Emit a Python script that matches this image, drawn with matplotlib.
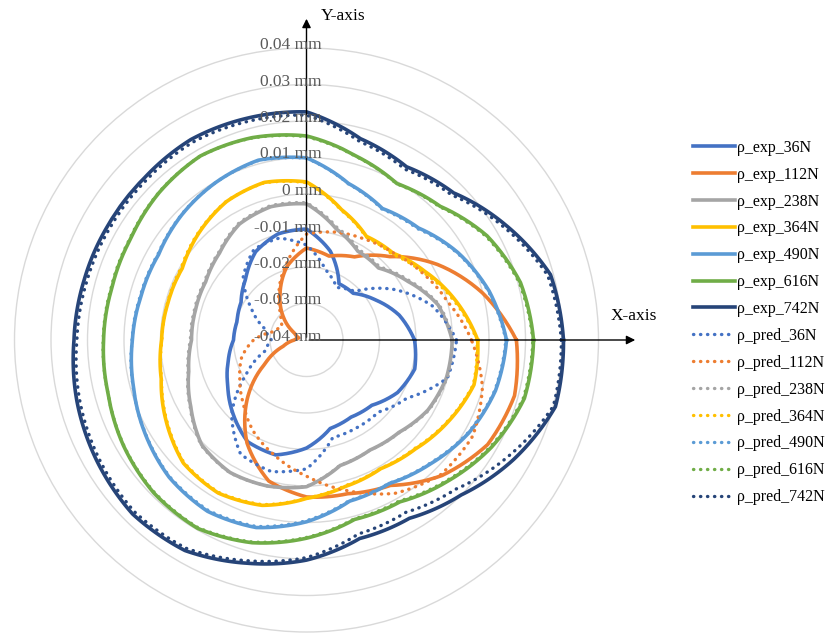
import numpy as np
import matplotlib.pyplot as plt
import matplotlib.transforms as mtransforms

plt.rcParams['font.family'] = ['Liberation Serif', 'DejaVu Serif']

# angles in degrees from the X-axis, counter-clockwise
angles = np.arange(0, 360, 15)

loads = ['36N', '112N', '238N', '364N', '490N', '616N', '742N']
colors = ['#4472C4', '#ED7D31', '#A5A5A5', '#FFC000', '#5B9BD5', '#70AD47', '#264478']

# measured profile deviation, mm
exp_36 = [-0.0104, -0.0137, -0.0181, -0.0219, -0.0222, -0.0148, -0.0096, -0.0099,
          -0.0121, -0.0164, -0.0193, -0.0203, -0.0200, -0.0178, -0.0151, -0.0115,
          -0.0078, -0.0074, -0.0104, -0.0149, -0.0156, -0.0147, -0.0112, -0.0093]
exp_112 = [0.0175, 0.0099, 0.0014, -0.0077, -0.0137, -0.0162, -0.0148, -0.0192,
           -0.0255, -0.0310, -0.0362, -0.0378, -0.0367, -0.0334, -0.0268, -0.0170,
           -0.0074, 0.0000, 0.0030, 0.0036, 0.0060, 0.0125, 0.0173, 0.0190]
exp_238 = [-0.0001, -0.0027, -0.0079, -0.0121, -0.0119, -0.0085, -0.0027, -0.0022,
           -0.0033, -0.0063, -0.0081, -0.0085, -0.0085, -0.0066, -0.0034, 0.0006,
           0.0019, 0.0014, 0.0002, -0.0044, -0.0052, -0.0042, -0.0016, -0.0003]
exp_364 = [0.0069, 0.0022, -0.0025, -0.0064, -0.0072, -0.0030, 0.0033, 0.0047,
           0.0038, 0.0016, -0.0007, -0.0007, -0.0003, 0.0012, 0.0044, 0.0077,
           0.0084, 0.0069, 0.0034, 0.0015, 0.0007, 0.0022, 0.0048, 0.0075]
exp_490 = [0.0148, 0.0118, 0.0079, 0.0034, 0.0016, 0.0044, 0.0099, 0.0110,
           0.0098, 0.0084, 0.0068, 0.0069, 0.0077, 0.0091, 0.0111, 0.0132,
           0.0142, 0.0132, 0.0098, 0.0057, 0.0054, 0.0080, 0.0112, 0.0136]
exp_616 = [0.0222, 0.0207, 0.0171, 0.0118, 0.0095, 0.0122, 0.0159, 0.0174,
           0.0182, 0.0171, 0.0156, 0.0152, 0.0156, 0.0163, 0.0179, 0.0192,
           0.0196, 0.0175, 0.0143, 0.0109, 0.0112, 0.0147, 0.0186, 0.0218]
exp_742 = [0.0304, 0.0292, 0.0230, 0.0170, 0.0148, 0.0171, 0.0225, 0.0229,
           0.0234, 0.0228, 0.0228, 0.0231, 0.0237, 0.0251, 0.0263, 0.0274,
           0.0266, 0.0233, 0.0203, 0.0163, 0.0164, 0.0200, 0.0255, 0.0306]

# predicted profile, mm
pred_36 = [0.0011, -0.0042, -0.0123, -0.0212, -0.0234, -0.0200, -0.0140, -0.0111,
           -0.0113, -0.0155, -0.0225, -0.0282, -0.0304, -0.0282, -0.0208, -0.0110,
           -0.0039, -0.0027, -0.0047, -0.0123, -0.0123, -0.0121, -0.0082, 0.0000]
pred_112 = [0.0052, 0.0001, -0.0033, -0.0063, -0.0081, -0.0094, -0.0110, -0.0186,
            -0.0249, -0.0301, -0.0323, -0.0310, -0.0255, -0.0216, -0.0189, -0.0155,
            -0.0110, -0.0071, -0.0027, 0.0027, 0.0085, 0.0121, 0.0126, 0.0099]
pred_238 = [0.0001, -0.0024, -0.0075, -0.0117, -0.0114, -0.0080, -0.0024, -0.0019,
            -0.0030, -0.0060, -0.0078, -0.0082, -0.0082, -0.0064, -0.0032, 0.0008,
            0.0020, 0.0014, 0.0001, -0.0045, -0.0052, -0.0041, -0.0014, -0.0001]
pred_364 = [0.0067, 0.0018, -0.0030, -0.0068, -0.0074, -0.0032, 0.0031, 0.0046,
            0.0039, 0.0018, -0.0004, -0.0006, -0.0004, 0.0011, 0.0042, 0.0075,
            0.0082, 0.0067, 0.0033, 0.0013, 0.0006, 0.0020, 0.0046, 0.0073]
pred_490 = [0.0146, 0.0116, 0.0077, 0.0031, 0.0014, 0.0043, 0.0098, 0.0109,
            0.0098, 0.0085, 0.0070, 0.0071, 0.0078, 0.0092, 0.0110, 0.0130,
            0.0139, 0.0129, 0.0095, 0.0055, 0.0053, 0.0078, 0.0110, 0.0134]
pred_616 = [0.0220, 0.0204, 0.0168, 0.0116, 0.0094, 0.0121, 0.0157, 0.0173,
            0.0182, 0.0172, 0.0158, 0.0154, 0.0157, 0.0163, 0.0178, 0.0190,
            0.0194, 0.0173, 0.0141, 0.0107, 0.0109, 0.0144, 0.0183, 0.0215]
pred_742 = [0.0298, 0.0284, 0.0222, 0.0162, 0.0140, 0.0163, 0.0216, 0.0220,
            0.0225, 0.0220, 0.0220, 0.0223, 0.0229, 0.0243, 0.0255, 0.0266,
            0.0259, 0.0226, 0.0196, 0.0150, 0.0145, 0.0178, 0.0238, 0.0300]

exp_all = [exp_36, exp_112, exp_238, exp_364, exp_490, exp_616, exp_742]
pred_all = [pred_36, pred_112, pred_238, pred_364, pred_490, pred_616, pred_742]
r_ticks = [-0.04, -0.03, -0.02, -0.01, 0, 0.01, 0.02, 0.03, 0.04]

W, H = 826, 642
fig = plt.figure(figsize=(W / 100, H / 100), dpi=100)
cx, cy, R = 306.5, 340, 292
ax = fig.add_axes([(cx - R) / W, 1 - (cy + R) / H, 2 * R / W, 2 * R / H], projection='polar')

th = np.deg2rad(np.append(angles, 360))
lines = []
for name, vals, c in zip(loads, exp_all, colors):
    lines += ax.plot(th, np.append(vals, vals[0]), color=c, lw=2.6, label=f'ρ_exp_{name}')
for name, vals, c in zip(loads, pred_all, colors):
    lines += ax.plot(th, np.append(vals, vals[0]), color=c, lw=2.4, linestyle=(0, (0.1, 2.0)),
                     dash_capstyle='round', label=f'ρ_pred_{name}')
# let the polar transform draw each segment as a curve instead of a chord
for ln in lines:
    ln.get_path()._interpolation_steps = 24

ax.set_xticks([])
ax.set_yticks(r_ticks[1:-1])
ax.set_yticklabels([])
ax.set_ylim(-0.04, 0.04)
ax.grid(True, color='#d9d9d9', lw=1)
ax.spines['polar'].set_color('#d9d9d9')
ax.spines['polar'].set_linewidth(1)

# radial labels along the Y-axis
off = mtransforms.offset_copy(ax.transData, fig=fig, x=15, y=3, units='dots')
for v in r_ticks:
    txt = '0 mm' if v == 0 else f'{v:.2f} mm'
    ax.text(np.pi / 2, v, txt, transform=off, ha='right', va='center',
            fontsize=12.5, color='#595959', zorder=5)

# X / Y axis arrows
def fp(x, y):
    return (x / W, 1 - y / H)

ax.annotate('', xy=fp(cx, 16), xytext=fp(cx, cy), xycoords='figure fraction',
            textcoords='figure fraction',
            arrowprops=dict(arrowstyle='-|>', color='black', lw=1.0, mutation_scale=13))
ax.annotate('', xy=fp(638, cy), xytext=fp(cx, cy), xycoords='figure fraction',
            textcoords='figure fraction',
            arrowprops=dict(arrowstyle='-|>', color='black', lw=1.0, mutation_scale=13))
fig.text(*fp(321, 16), 'Y-axis', ha='left', va='center', fontsize=12.5)
fig.text(*fp(611, 316), 'X-axis', ha='left', va='center', fontsize=12.5)

fig.legend(loc='center left', bbox_to_anchor=fp(679, 322.5), frameon=False,
           fontsize=11.5, handlelength=2.6, handletextpad=0.15, labelspacing=0.68)

fig.savefig('out.png', dpi=100)
